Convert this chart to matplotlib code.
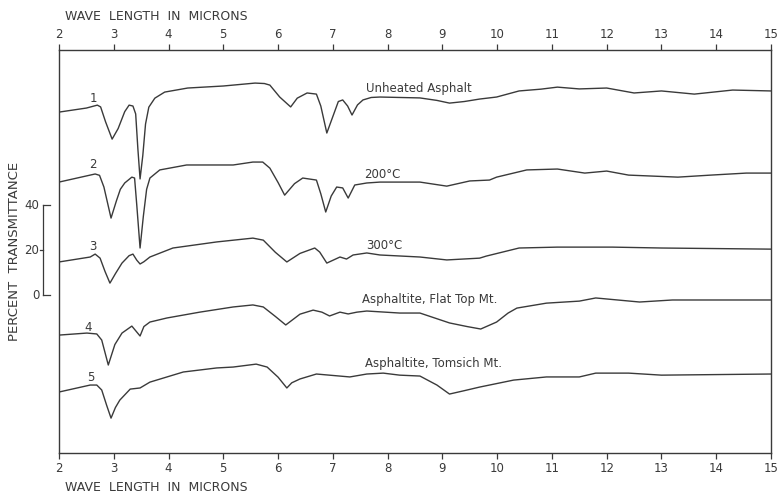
import numpy as np
import matplotlib
matplotlib.use("Agg")
import matplotlib.pyplot as plt

# wavelength (microns) and offset transmittance (chart units, scale bar = 0..40 %)
wl1 = [2.0, 2.5, 2.7, 2.76, 2.85, 2.97, 3.08, 3.2, 3.28, 3.35, 3.4, 3.44, 3.48, 3.53, 3.58, 3.64,
       3.75, 3.93, 4.35, 5.0, 5.58, 5.75, 5.85, 6.03, 6.23, 6.35, 6.53, 6.7, 6.78, 6.89, 6.98,
       7.1, 7.18, 7.27, 7.35, 7.45, 7.55, 7.7, 7.86, 8.59, 8.9, 9.13, 9.4, 9.68, 9.99, 10.4,
       10.8, 11.1, 11.5, 12.0, 12.5, 13.0, 13.6, 14.3, 15.0]
tr1 = [81.3, 83.1, 84.4, 83.6, 77.0, 69.3, 74.0, 81.5, 84.4, 84.0, 80.5, 65.0, 51.6, 62.0, 76.0,
       83.5, 87.5, 90.2, 92.0, 92.9, 94.2, 94.0, 93.3, 88.0, 83.6, 87.5, 89.8, 89.3, 84.0, 72.0,
       78.0, 86.0, 86.7, 84.0, 80.0, 84.5, 86.7, 87.8, 88.0, 87.6, 86.5, 85.3, 86.0, 87.1, 88.0,
       90.7, 91.5, 92.4, 91.6, 92.0, 89.8, 90.7, 89.3, 91.1, 90.7]

wl2 = [2.0, 2.66, 2.74, 2.82, 2.95, 3.05, 3.12, 3.2, 3.33, 3.38, 3.42, 3.48, 3.54, 3.6, 3.66,
       3.84, 4.33, 5.18, 5.54, 5.72, 5.85, 6.0, 6.12, 6.3, 6.45, 6.7, 6.78, 6.87, 6.97, 7.07,
       7.18, 7.28, 7.4, 7.62, 7.86, 8.59, 9.08, 9.5, 9.86, 9.99, 10.54, 11.1, 11.6, 12.0, 12.4,
       13.3, 13.9, 14.55, 15.0]
tr2 = [50.2, 53.8, 53.2, 48.0, 34.2, 42.0, 47.0, 49.8, 52.4, 52.0, 40.0, 20.9, 35.0, 47.0, 52.0,
       55.6, 57.8, 57.8, 59.1, 59.1, 56.4, 50.0, 44.4, 49.5, 52.0, 51.1, 45.0, 36.9, 44.0, 48.0,
       47.6, 43.1, 48.9, 49.8, 50.2, 50.2, 48.4, 50.7, 51.1, 52.4, 55.6, 56.0, 54.2, 55.1, 53.3,
       52.4, 53.3, 54.2, 54.2]

wl3 = [2.0, 2.57, 2.66, 2.75, 2.84, 2.93, 3.03, 3.15, 3.28, 3.35, 3.42, 3.48, 3.55, 3.66, 4.08,
       4.88, 5.54, 5.73, 5.95, 6.16, 6.4, 6.67, 6.76, 6.89, 7.13, 7.25, 7.37, 7.62, 7.86, 8.59,
       9.08, 9.68, 9.8, 10.4, 11.1, 12.1, 13.0, 15.0]
tr3 = [14.7, 16.9, 18.2, 16.4, 10.5, 5.3, 9.5, 14.2, 17.5, 18.2, 15.5, 13.8, 14.8, 16.9, 20.9,
       23.6, 25.3, 24.4, 19.0, 14.7, 18.5, 20.9, 19.1, 14.2, 16.9, 16.0, 17.8, 18.7, 17.8, 16.9,
       15.6, 16.4, 17.3, 20.9, 21.3, 21.3, 20.9, 20.4]

wl4 = [2.0, 2.51, 2.69, 2.78, 2.9, 3.02, 3.15, 3.33, 3.48, 3.55, 3.66, 3.97, 4.57, 5.18, 5.54,
       5.73, 5.95, 6.14, 6.4, 6.64, 6.8, 6.94, 7.13, 7.28, 7.44, 7.62, 8.22, 8.59, 9.13, 9.45,
       9.7, 9.99, 10.2, 10.36, 10.9, 11.5, 11.8, 12.6, 13.2, 15.0]
tr4 = [-17.8, -16.9, -17.3, -20.0, -31.1, -22.0, -16.9, -13.8, -18.2, -14.0, -12.0, -10.2, -7.6,
       -5.3, -4.4, -5.3, -9.5, -13.3, -8.5, -6.7, -7.6, -9.3, -7.6, -8.4, -7.6, -7.1, -8.0, -8.0,
       -12.4, -14.0, -15.1, -12.0, -8.0, -5.8, -3.6, -2.7, -1.3, -3.1, -2.2, -2.2]

wl5 = [2.0, 2.57, 2.69, 2.78, 2.87, 2.95, 3.03, 3.11, 3.3, 3.48, 3.66, 4.27, 4.88, 5.18, 5.6,
       5.8, 6.0, 6.16, 6.25, 6.4, 6.7, 7.31, 7.62, 7.92, 8.22, 8.59, 8.9, 9.13, 9.4, 9.68, 10.3,
       10.9, 11.5, 11.8, 12.4, 13.0, 15.0]
tr5 = [-43.1, -40.0, -40.0, -42.2, -49.0, -54.7, -50.0, -46.7, -41.8, -41.3, -38.7, -34.2, -32.4,
       -32.0, -30.7, -32.0, -36.5, -41.3, -39.0, -37.3, -35.1, -36.4, -35.1, -34.7, -35.6, -36.0,
       -40.0, -44.0, -42.5, -40.9, -37.8, -36.4, -36.4, -34.7, -34.7, -35.6, -35.1]

curve_nums = ["1", "2", "3", "4", "5"]
curve_names = ["Unheated Asphalt", "200°C", "300°C", "Asphaltite, Flat Top Mt.",
               "Asphaltite, Tomsich Mt."]
scale_ticks = [0, 20, 40]
wl_ticks = list(range(2, 16))

ink = "#3a3a3a"
plt.rcParams["font.family"] = ["DejaVu Sans"]

fig = plt.figure(figsize=(7.81, 4.94), dpi=100)
ax = fig.add_axes([59 / 781, 1 - 453 / 494, 712 / 781, 403 / 494])

for wl, tr in zip([wl1, wl2, wl3, wl4, wl5], [tr1, tr2, tr3, tr4, tr5]):
    ax.plot(wl, tr, color=ink, lw=1.0, solid_joinstyle="round")

ax.set_xlim(2, 15)
ax.set_ylim(-70.2, 108.9)

# curve numbers and names
num_pos = [(2.63, 87.5), (2.62, 58.0), (2.62, 21.5), (2.53, -14.5), (2.58, -36.5)]
name_pos = [(7.6, 92.0), (7.58, 53.5), (7.6, 21.8), (7.53, -1.8), (7.58, -30.6)]
for n, (x, y) in zip(curve_nums, num_pos):
    ax.text(x, y, n, fontsize=8.5, color=ink, ha="center", va="center")
for s, (x, y) in zip(curve_names, name_pos):
    ax.text(x, y, s, fontsize=8.5, color=ink, ha="left", va="center")

# axes: ticks on top and bottom, box all round
ax.set_xticks(wl_ticks)
ax.set_xticklabels([str(t) for t in wl_ticks])
ax.set_yticks([])
ax.tick_params(axis="x", which="both", top=True, bottom=True, labeltop=True, labelbottom=True,
               direction="out", length=4, width=0.9, color=ink, labelcolor=ink, labelsize=8.5,
               pad=2.5)
for sp in ax.spines.values():
    sp.set_color(ink)
    sp.set_linewidth(1.0)

# percent transmittance scale bar
xb = 1.71
xr = 1.84
xl = 1.66
ax.plot([xb, xb], [scale_ticks[0], scale_ticks[-1]], color=ink, lw=0.9, clip_on=False)
ax.plot([xb, xr], [scale_ticks[-1]] * 2, color=ink, lw=0.9, clip_on=False)
ax.plot([xb, xr], [scale_ticks[0]] * 2, color=ink, lw=0.9, clip_on=False)
ax.plot([xl, xb], [scale_ticks[1]] * 2, color=ink, lw=0.9, clip_on=False)
for t in scale_ticks:
    ax.text(1.64, t, str(t), fontsize=8.5, color=ink, ha="right", va="center", clip_on=False)

fig.text(65 / 781, 1 - 16 / 494, "WAVE  LENGTH  IN  MICRONS", fontsize=9, color=ink,
         ha="left", va="center")
fig.text(65 / 781, 1 - 487 / 494, "WAVE  LENGTH  IN  MICRONS", fontsize=9, color=ink,
         ha="left", va="center")
fig.text(15 / 781, 1 - 251 / 494, "PERCENT  TRANSMITTANCE", fontsize=9.5, color=ink,
         rotation=90, ha="center", va="center")

fig.savefig("out.png", dpi=100, facecolor="white")
